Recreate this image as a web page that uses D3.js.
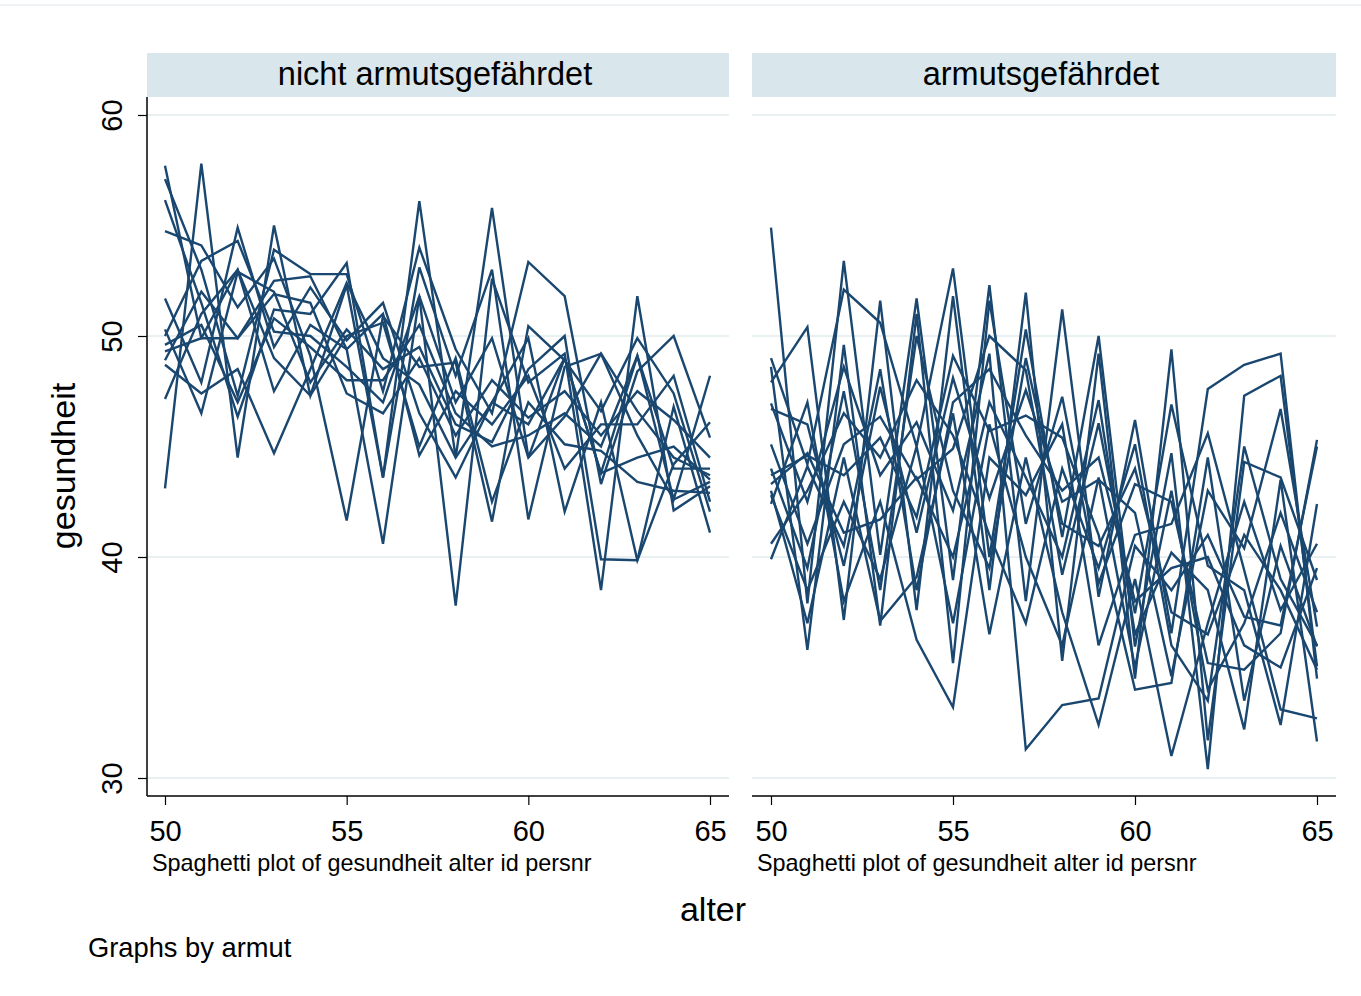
<!DOCTYPE html>
<html>
<head>
<meta charset="utf-8">
<script src="https://cdn.jsdelivr.net/npm/d3@7"></script>
<style>
  body { margin: 0; background: #fff; }
  svg { display: block; font-family: "Liberation Sans", Arial, sans-serif; }
</style>
</head>
<body>
<svg id="chart" width="1361" height="996"></svg>
<script>
// ages on the x axis
const ages = [50, 51, 52, 53, 54, 55, 56, 57, 58, 59, 60, 61, 62, 63, 64, 65];
const xTicks = [50, 55, 60, 65];
const yTicks = [30, 40, 50, 60];
const panelTitles = ["nicht armutsgefährdet", "armutsgefährdet"];

// gesundheit per person, not at risk of poverty
const nichtArm = [
  [43.1, 57.8, 44.5, 55.0, 47.3, 52.3, 43.6, 56.1, 44.5, 55.8, 44.5, 49.0, 43.8, 49.1, 42.6, 48.2],
  [57.7, 49.9, 49.9, 52.5, 52.7, 49.4, 40.6, 51.8, 37.8, 52.6, 47.9, 49.2, 38.5, 51.8, 42.1, 43.2],
  [57.1, 53.0, 47.3, 53.9, 52.8, 52.8, 47.5, 54.0, 49.4, 46.5, 53.35, 51.8, 43.3, 48.4, 50.0, 45.4],
  [56.15, 51.5, 46.35, 51.2, 51.0, 53.3, 43.6, 53.1, 48.2, 53.0, 41.7, 48.6, 49.2, 45.5, 42.6, 43.4],
  [54.75, 54.1, 51.3, 53.5, 49.1, 41.65, 50.9, 48.6, 48.8, 41.6, 50.45, 48.9, 46.6, 49.9, 47.4, 42.05],
  [51.7, 47.9, 54.9, 49.5, 52.2, 49.8, 51.5, 46.5, 43.6, 47.0, 49.9, 42.05, 47.0, 39.85, 44.2, 46.1],
  [50.3, 46.5, 52.9, 52.0, 47.9, 50.3, 48.5, 49.5, 46.0, 45.2, 48.5, 50.0, 39.9, 39.85, 46.8, 41.1],
  [50.0, 53.4, 54.3, 50.2, 50.0, 48.6, 47.0, 51.8, 47.0, 49.9, 44.5, 46.35, 49.2, 46.6, 44.5, 43.7],
  [49.3, 49.9, 53.0, 49.0, 47.3, 50.0, 50.6, 45.0, 49.0, 42.5, 47.0, 45.1, 44.8, 43.4, 43.0, 42.9],
  [48.7, 47.4, 48.5, 44.7, 48.5, 52.4, 49.0, 47.8, 44.5, 47.0, 46.0, 49.0, 43.8, 44.5, 45.0, 43.5],
  [48.9, 52.0, 49.9, 51.9, 51.5, 47.4, 46.5, 49.0, 45.5, 48.0, 46.3, 47.5, 45.5, 47.5, 46.2, 44.5],
  [47.15, 51.0, 53.0, 47.5, 50.5, 49.4, 51.0, 44.6, 47.5, 46.0, 48.2, 44.0, 46.0, 46.0, 48.2, 42.5],
  [49.6, 50.5, 47.0, 50.8, 49.5, 48.0, 48.0, 50.5, 46.5, 45.0, 45.5, 46.5, 45.0, 49.1, 44.0, 44.0]
];

// gesundheit per person, at risk of poverty
const arm = [
  [54.9, 37.9, 53.4, 40.1, 51.7, 38.96, 52.3, 38.0, 51.2, 38.2, 46.2, 36.55, 47.6, 48.7, 49.2, 34.5],
  [49.0, 44.2, 52.1, 50.6, 45.0, 53.06, 40.0, 50.3, 40.9, 50.0, 35.95, 44.7, 30.4, 47.3, 48.2, 35.05],
  [48.6, 35.8, 49.6, 36.9, 51.0, 35.2, 51.6, 41.5, 47.25, 38.8, 43.3, 42.5, 35.2, 34.9, 36.55, 45.3],
  [47.9, 50.4, 37.15, 51.6, 37.6, 51.8, 38.5, 51.96, 35.3, 49.2, 34.5, 49.4, 31.7, 44.3, 43.6, 38.96],
  [46.95, 42.5, 48.6, 43.7, 46.1, 42.1, 49.2, 31.3, 33.3, 33.6, 40.5, 38.5, 41.0, 37.3, 36.9, 45.0],
  [46.7, 46.0, 39.6, 47.7, 41.1, 48.1, 42.65, 47.55, 42.5, 43.5, 42.0, 34.6, 43.0, 40.4, 46.7, 36.85],
  [45.1, 40.6, 45.1, 46.35, 43.5, 44.9, 50.0, 48.46, 39.2, 46.05, 37.45, 46.9, 39.6, 38.5, 32.4, 42.4],
  [43.7, 44.6, 43.7, 45.4, 41.8, 49.1, 45.7, 46.4, 45.4, 41.0, 34.0, 34.3, 44.5, 33.5, 40.5, 35.95],
  [43.3, 44.7, 41.1, 41.7, 43.6, 40.0, 47.0, 43.6, 40.0, 47.1, 36.5, 40.2, 38.5, 32.2, 43.5, 31.65],
  [43.0, 37.0, 44.5, 37.1, 39.1, 46.5, 36.5, 44.5, 37.5, 32.4, 39.0, 31.0, 37.0, 42.5, 37.6, 40.6],
  [42.4, 47.0, 38.0, 42.5, 36.25, 33.2, 44.5, 42.8, 46.0, 36.0, 41.0, 41.5, 45.6, 39.4, 33.1, 32.7],
  [40.6, 43.0, 46.5, 44.5, 48.0, 45.5, 41.0, 37.0, 44.0, 39.5, 45.1, 36.0, 33.5, 45.0, 39.0, 36.0],
  [39.9, 44.1, 40.5, 48.5, 38.5, 47.0, 48.5, 45.5, 43.0, 44.5, 38.0, 39.5, 40.0, 36.0, 35.0, 39.5],
  [44.0, 39.5, 47.5, 38.5, 50.0, 43.0, 39.5, 49.0, 41.5, 40.5, 44.0, 37.5, 36.5, 41.0, 38.5, 34.9],
  [42.8, 38.5, 42.5, 39.0, 45.0, 37.0, 46.0, 40.0, 36.0, 43.6, 35.0, 43.0, 34.0, 37.0, 42.0, 37.5]
];

const lineColor = "#1a476f";
const gridColor = "#e9f0f2";
const stripColor = "#d9e6eb";

const svg = d3.select("#chart");

// faint outer border line at top
svg.append("line")
  .attr("x1", 0).attr("x2", 1361)
  .attr("y1", 5).attr("y2", 5)
  .attr("stroke", "#e8eef0").attr("stroke-width", 1.5);

const plotTop = 97, plotBottom = 796;
const y = d3.scaleLinear().domain([30, 60]).range([778, 115]);

const panels = [
  { title: panelTitles[0], data: nichtArm, left: 147, right: 729, x0: 165, x1: 710, yAxis: true },
  { title: panelTitles[1], data: arm, left: 752, right: 1336, x0: 771, x1: 1317, yAxis: false }
];

panels.forEach(function (p) {
  const x = d3.scaleLinear().domain([50, 65]).range([p.x0, p.x1]);
  const g = svg.append("g");

  // strip title
  g.append("rect")
    .attr("x", p.left).attr("y", 53)
    .attr("width", p.right - p.left).attr("height", 44)
    .attr("fill", stripColor);
  g.append("text")
    .attr("x", (p.left + p.right) / 2 - 3).attr("y", 85)
    .attr("text-anchor", "middle")
    .attr("font-size", 32.5)
    .attr("fill", "#000")
    .text(p.title);

  // gridlines
  g.selectAll("line.grid")
    .data(yTicks)
    .join("line")
    .attr("class", "grid")
    .attr("x1", p.left).attr("x2", p.right)
    .attr("y1", d => y(d)).attr("y2", d => y(d))
    .attr("stroke", gridColor).attr("stroke-width", 2);

  // spaghetti lines
  const line = d3.line()
    .x((d, i) => x(ages[i]))
    .y(d => y(d));
  g.selectAll("path.person")
    .data(p.data)
    .join("path")
    .attr("class", "person")
    .attr("d", line)
    .attr("fill", "none")
    .attr("stroke", lineColor)
    .attr("stroke-width", 2.4)
    .attr("stroke-linejoin", "miter");

  // x axis
  const xAxis = d3.axisBottom(x).tickValues(xTicks).tickSize(9).tickSizeOuter(0).tickPadding(15);
  const xa = g.append("g")
    .attr("transform", "translate(0," + plotBottom + ")")
    .call(xAxis);
  xa.select(".domain").remove();
  xa.append("line")
    .attr("x1", p.left).attr("x2", p.right)
    .attr("y1", 0).attr("y2", 0)
    .attr("stroke", "#000").attr("stroke-width", 1.5);
  xa.selectAll(".tick line").attr("stroke", "#000").attr("stroke-width", 1.2);
  xa.selectAll(".tick text")
    .attr("font-size", 29)
    .attr("font-family", "Liberation Sans, Arial, sans-serif")
    .attr("fill", "#000");

  // note under axis
  g.append("text")
    .attr("x", p.left + 5).attr("y", 871)
    .attr("font-size", 23.4)
    .attr("fill", "#000")
    .text("Spaghetti plot of gesundheit alter id persnr");

  if (p.yAxis) {
    const yAxis = d3.axisLeft(y).tickValues(yTicks).tickSize(9).tickSizeOuter(0).tickFormat(d3.format("d"));
    const ya = g.append("g")
      .attr("transform", "translate(" + p.left + ",0)")
      .call(yAxis);
    ya.select(".domain").remove();
    ya.append("line")
      .attr("x1", 0).attr("x2", 0)
      .attr("y1", plotTop).attr("y2", plotBottom)
      .attr("stroke", "#000").attr("stroke-width", 1.5);
    ya.selectAll(".tick line").attr("stroke", "#000").attr("stroke-width", 1.2);
    ya.selectAll(".tick text")
      .attr("font-size", 29)
      .attr("font-family", "Liberation Sans, Arial, sans-serif")
      .attr("fill", "#000")
      .attr("x", null).attr("dy", null)
      .attr("text-anchor", "middle")
      .attr("transform", "translate(-25,0) rotate(-90)");
  }
});

// axis titles
svg.append("text")
  .attr("transform", "translate(75,466) rotate(-90)")
  .attr("text-anchor", "middle")
  .attr("font-size", 34)
  .text("gesundheit");

svg.append("text")
  .attr("x", 713).attr("y", 921)
  .attr("text-anchor", "middle")
  .attr("font-size", 34)
  .text("alter");

svg.append("text")
  .attr("x", 88).attr("y", 957)
  .attr("font-size", 27.3)
  .text("Graphs by armut");
</script>
</body>
</html>
